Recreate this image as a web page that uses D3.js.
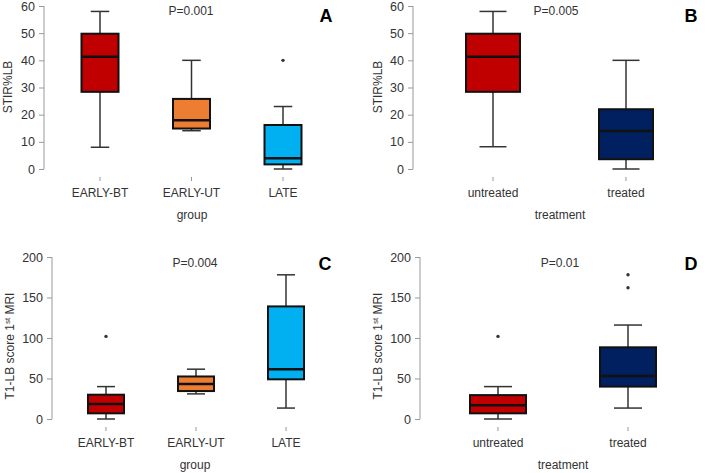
<!DOCTYPE html>
<meta charset="utf-8">
<head>
  <title>Boxplots</title>
</head>

<style>
body { margin: 0; background: #fff; }
text {
  font-family: "Liberation Sans", Arial, Helvetica, sans-serif;
  fill: #333;
  font-size: 12px;
}
.axis line, .axis path { stroke: #999; }
.whisker { stroke: #333; stroke-width: 1.5; }
.box { stroke: #111; stroke-width: 2; }
.median { stroke: #111; stroke-width: 2.5; }
.letter { font-weight: bold; font-size: 18px; fill: #000; }
</style>

<body>
  <svg width="706" height="473"></svg>

  <script src="https://cdnjs.cloudflare.com/ajax/libs/d3/7.8.5/d3.min.js"></script>
  <script>
// categories
var groupCats = ['EARLY-BT', 'EARLY-UT', 'LATE'];
var treatCats = ['untreated', 'treated'];

// box stats: [lower whisker, Q1, median, Q3, upper whisker]
var stirByGroup = [[8, 28.4, 41.3, 49.8, 58], [14.1, 14.9, 17.9, 25.8, 40], [0, 1.7, 4, 16.2, 23]];
var stirGroupOut = [[], [], [40]];
var stirByTreat = [[8.2, 28.4, 41.3, 49.8, 58], [0, 3.6, 14, 22, 40]];
var stirTreatOut = [[], []];
var t1ByGroup = [[0, 7, 18.5, 30, 40], [31, 34.5, 43.2, 52.5, 61.5], [13.5, 49, 61.3, 139, 178]];
var t1GroupOut = [[102], [], []];
var t1ByTreat = [[0, 7, 17, 29.5, 40], [13.5, 40, 53, 88.5, 116]];
var t1TreatOut = [[102], [162, 178]];

// tick labels
var stirTicks = [0, 10, 20, 30, 40, 50, 60];
var t1Ticks = [0, 50, 100, 150, 200];

var groupColors = ['#c00000', '#ed7d31', '#00b0f0'];
var treatColors = ['#c00000', '#002060'];

var svg = d3.select('svg');

function drawPanel(p) {
  var g = svg.append('g');
  var x = d3.scaleLinear().domain([1, p.cats.length]).range(p.xr);
  var y = d3.scaleLinear().domain([0, d3.max(p.ticks)]).range(p.yr);

  // y axis
  var ax = g.append('g').attr('class', 'axis')
    .attr('transform', 'translate(' + p.axisX + ',0)')
    .call(d3.axisLeft(y).tickValues(p.ticks).tickSize(5).tickPadding(4).tickFormat(d3.format('d')));
  ax.select('.domain').attr('d', 'M0,' + y(0) + 'V' + y(d3.max(p.ticks)));
  ax.selectAll('text').style('font-size', '12.5px').attr('fill', '#333');

  // category ticks and labels
  g.selectAll('.ctick').data(p.cats).enter().append('line')
    .attr('x1', function(d, i) { return x(i + 1) })
    .attr('x2', function(d, i) { return x(i + 1) })
    .attr('y1', p.catTickY).attr('y2', p.catTickY + 4)
    .attr('stroke', '#999');
  g.selectAll('.clabel').data(p.cats).enter().append('text')
    .attr('x', function(d, i) { return x(i + 1) })
    .attr('y', p.catLabelY)
    .attr('text-anchor', 'middle')
    .text(function(d) { return d });

  g.append('text').attr('x', p.xTitleX).attr('y', p.xTitleY)
    .attr('text-anchor', 'middle').text(p.xTitle);

  var yt = g.append('text')
    .attr('transform', 'translate(' + p.yTitleX + ',' + p.yTitleY + ') rotate(-90)')
    .attr('text-anchor', 'middle');
  yt.append('tspan').text(p.yTitle[0]);
  if (p.yTitle.length > 1) {
    yt.append('tspan').attr('dy', -4).style('font-size', '8px').text(p.yTitle[1]);
    yt.append('tspan').attr('dy', 4).text(p.yTitle[2]);
  }

  g.append('text').attr('x', p.pX).attr('y', p.pY)
    .attr('text-anchor', 'middle').text(p.pText);
  g.append('text').attr('class', 'letter').attr('x', p.letterX).attr('y', p.letterY)
    .attr('text-anchor', 'middle').text(p.letter);

  // boxes
  var bw = p.boxW;
  var boxes = g.selectAll('.bx').data(p.stats).enter().append('g');
  boxes.append('line').attr('class', 'whisker')
    .attr('x1', function(d, i) { return x(i + 1) }).attr('x2', function(d, i) { return x(i + 1) })
    .attr('y1', function(d) { return y(d[0]) }).attr('y2', function(d) { return y(d[1]) });
  boxes.append('line').attr('class', 'whisker')
    .attr('x1', function(d, i) { return x(i + 1) }).attr('x2', function(d, i) { return x(i + 1) })
    .attr('y1', function(d) { return y(d[3]) }).attr('y2', function(d) { return y(d[4]) });
  [0, 4].forEach(function(k) {
    boxes.append('line').attr('class', 'whisker')
      .attr('x1', function(d, i) { return x(i + 1) - bw / 4 })
      .attr('x2', function(d, i) { return x(i + 1) + bw / 4 })
      .attr('y1', function(d) { return y(d[k]) }).attr('y2', function(d) { return y(d[k]) });
  });
  boxes.append('rect').attr('class', 'box')
    .attr('x', function(d, i) { return x(i + 1) - bw / 2 })
    .attr('width', bw)
    .attr('y', function(d) { return y(d[3]) })
    .attr('height', function(d) { return y(d[1]) - y(d[3]) })
    .attr('fill', function(d, i) { return p.colors[i] });
  boxes.append('line').attr('class', 'median')
    .attr('x1', function(d, i) { return x(i + 1) - bw / 2 })
    .attr('x2', function(d, i) { return x(i + 1) + bw / 2 })
    .attr('y1', function(d) { return y(d[2]) }).attr('y2', function(d) { return y(d[2]) });

  // outliers
  p.outliers.forEach(function(arr, i) {
    g.selectAll(null).data(arr).enter().append('circle')
      .attr('cx', x(i + 1)).attr('cy', function(d) { return y(d) })
      .attr('r', 1.7).attr('fill', '#333');
  });
}

drawPanel({
  cats: groupCats, stats: stirByGroup, outliers: stirGroupOut, colors: groupColors, ticks: stirTicks,
  axisX: 44, xr: [100, 283], yr: [169, 6], boxW: 37,
  catTickY: 177, catLabelY: 197, xTitle: 'group', xTitleX: 192, xTitleY: 219,
  yTitle: ['STIR%LB'], yTitleX: 12, yTitleY: 87,
  pText: 'P=0.001', pX: 191, pY: 15, letter: 'A', letterX: 326, letterY: 22
});
drawPanel({
  cats: treatCats, stats: stirByTreat, outliers: stirTreatOut, colors: treatColors, ticks: stirTicks,
  axisX: 413, xr: [493, 626], yr: [169, 6], boxW: 54,
  catTickY: 177, catLabelY: 197, xTitle: 'treatment', xTitleX: 560, xTitleY: 219,
  yTitle: ['STIR%LB'], yTitleX: 382, yTitleY: 87,
  pText: 'P=0.005', pX: 556, pY: 15, letter: 'B', letterX: 691, letterY: 22
});
drawPanel({
  cats: groupCats, stats: t1ByGroup, outliers: t1GroupOut, colors: groupColors, ticks: t1Ticks,
  axisX: 52, xr: [106, 286], yr: [419, 257], boxW: 36,
  catTickY: 427, catLabelY: 447, xTitle: 'group', xTitleX: 195, xTitleY: 469,
  yTitle: ['T1-LB score 1', 'st', ' MRI'], yTitleX: 14, yTitleY: 346,
  pText: 'P=0.004', pX: 195, pY: 267, letter: 'C', letterX: 325, letterY: 270
});
drawPanel({
  cats: treatCats, stats: t1ByTreat, outliers: t1TreatOut, colors: treatColors, ticks: t1Ticks,
  axisX: 420, xr: [498, 628], yr: [419, 257], boxW: 56,
  catTickY: 427, catLabelY: 447, xTitle: 'treatment', xTitleX: 563, xTitleY: 469,
  yTitle: ['T1-LB score 1', 'st', ' MRI'], yTitleX: 382, yTitleY: 346,
  pText: 'P=0.01', pX: 560, pY: 267, letter: 'D', letterX: 691, letterY: 270
});
  </script>
</body>
</html>
